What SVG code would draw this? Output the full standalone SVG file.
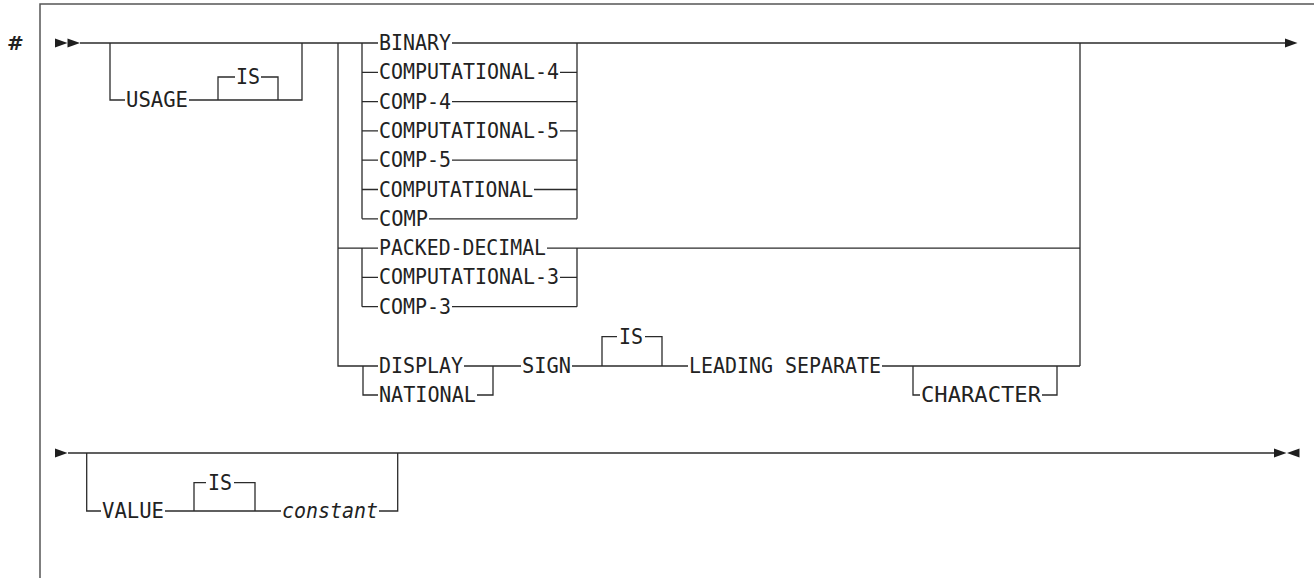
<svg xmlns="http://www.w3.org/2000/svg" width="1314" height="578" viewBox="0 0 1314 578">
<style>
.t{font-family:"DejaVu Sans Mono","Liberation Mono",monospace;font-size:21px;fill:#222}
.i{font-style:italic}
.c{fill:none;stroke:#2b2b2b;stroke-width:1.3}
.f{fill:none;stroke:#555;stroke-width:1.5}
.a{fill:#1e1e1e}
</style>
<defs>
<polygon id="ar" points="0,-4.5 12.5,0 0,4.5"/>
<polygon id="al" points="0,-4.5 -12.5,0 0,4.5"/>
</defs>
<g id="frame">
<path class="f" d="M40,578 V4 H1314"/>
<text class="t" x="7" y="50" style="font-family:'DejaVu Sans',sans-serif;font-size:20px;font-weight:bold">#</text>
</g>
<g id="connectors">
<g class="a">
<use href="#ar" x="55" y="43"/><use href="#ar" x="67.5" y="43"/>
<use href="#ar" x="1285" y="43"/>
<use href="#ar" x="55" y="453"/>
<use href="#ar" x="1274" y="453"/><use href="#al" x="1299.5" y="453"/>
</g>
<path class="c" d="M80,43 H378 M452,43 H1285"/>
<path class="c" d="M110,43 V100 H125 M189,100 H302 V43"/>
<path class="c" d="M218,100 V77 H235 M261,77 H278 V100"/>
<path class="c" d="M338,43 V366 H378 M338,248.1 H378"/>
<path class="c" d="M362,43 V218.8 M577,43 V218.8"/>
<path class="c" d="M362,72.3 H378 M560,72.3 H577"/>
<path class="c" d="M362,101.6 H378 M452,101.6 H577"/>
<path class="c" d="M362,130.9 H378 M560,130.9 H577"/>
<path class="c" d="M362,160.2 H378 M452,160.2 H577"/>
<path class="c" d="M362,189.5 H378 M534,189.5 H577"/>
<path class="c" d="M362,218.8 H378 M429,218.8 H577"/>
<path class="c" d="M547,248.1 H1080"/>
<path class="c" d="M362,248.1 V306.7 M577,248.1 V306.7"/>
<path class="c" d="M362,277.4 H378 M560,277.4 H577"/>
<path class="c" d="M362,306.7 H378 M452,306.7 H577"/>
<path class="c" d="M1080,43 V366"/>
<path class="c" d="M363,366 V395 H378 M477,395 H493 V366 M464,366 H521"/>
<path class="c" d="M572,366 H688 M602,366 V336.7 H617 M645,336.7 H662 V366"/>
<path class="c" d="M882,366 H1080 M913,366 V395 H920 M1042,395 H1057 V366"/>
<path class="c" d="M68,453 H1274"/>
<path class="c" d="M86.7,453 V511 H101 M165,511 H281 M379,511 H397.7 V453"/>
<path class="c" d="M194,511 V482.7 H206 M234,482.7 H255 V511"/>
</g>
<g id="n-usage"><text class="t" x="126" y="107" textLength="62" lengthAdjust="spacingAndGlyphs">USAGE</text></g>
<g id="n-usage-is"><text class="t" x="236" y="84" textLength="24" lengthAdjust="spacingAndGlyphs">IS</text></g>
<g id="n-binary"><text class="t" x="379" y="50" textLength="72" lengthAdjust="spacingAndGlyphs">BINARY</text></g>
<g id="n-comp4l"><text class="t" x="379" y="79.3" textLength="180" lengthAdjust="spacingAndGlyphs">COMPUTATIONAL-4</text></g>
<g id="n-comp4"><text class="t" x="379" y="108.6" textLength="72" lengthAdjust="spacingAndGlyphs">COMP-4</text></g>
<g id="n-comp5l"><text class="t" x="379" y="137.9" textLength="180" lengthAdjust="spacingAndGlyphs">COMPUTATIONAL-5</text></g>
<g id="n-comp5"><text class="t" x="379" y="167.2" textLength="72" lengthAdjust="spacingAndGlyphs">COMP-5</text></g>
<g id="n-compl"><text class="t" x="379" y="196.5" textLength="154" lengthAdjust="spacingAndGlyphs">COMPUTATIONAL</text></g>
<g id="n-comp"><text class="t" x="379" y="225.8" textLength="49" lengthAdjust="spacingAndGlyphs">COMP</text></g>
<g id="n-packed"><text class="t" x="379" y="255.1" textLength="167" lengthAdjust="spacingAndGlyphs">PACKED-DECIMAL</text></g>
<g id="n-comp3l"><text class="t" x="379" y="284.4" textLength="180" lengthAdjust="spacingAndGlyphs">COMPUTATIONAL-3</text></g>
<g id="n-comp3"><text class="t" x="379" y="313.7" textLength="72" lengthAdjust="spacingAndGlyphs">COMP-3</text></g>
<g id="n-display"><text class="t" x="379" y="373" textLength="84" lengthAdjust="spacingAndGlyphs">DISPLAY</text></g>
<g id="n-national"><text class="t" x="379" y="402" textLength="97" lengthAdjust="spacingAndGlyphs">NATIONAL</text></g>
<g id="n-sign"><text class="t" x="522" y="373" textLength="49" lengthAdjust="spacingAndGlyphs">SIGN</text></g>
<g id="n-sign-is"><text class="t" x="619" y="343.7" textLength="24" lengthAdjust="spacingAndGlyphs">IS</text></g>
<g id="n-leading"><text class="t" x="689" y="373" textLength="192" lengthAdjust="spacingAndGlyphs">LEADING SEPARATE</text></g>
<g id="n-character"><text class="t" x="921" y="402" textLength="120" lengthAdjust="spacingAndGlyphs">CHARACTER</text></g>
<g id="n-value"><text class="t" x="102" y="518" textLength="62" lengthAdjust="spacingAndGlyphs">VALUE</text></g>
<g id="n-value-is"><text class="t" x="208" y="489.7" textLength="24" lengthAdjust="spacingAndGlyphs">IS</text></g>
<g id="n-constant"><text class="t i" x="282" y="518" textLength="96" lengthAdjust="spacingAndGlyphs">constant</text></g>
</svg>
